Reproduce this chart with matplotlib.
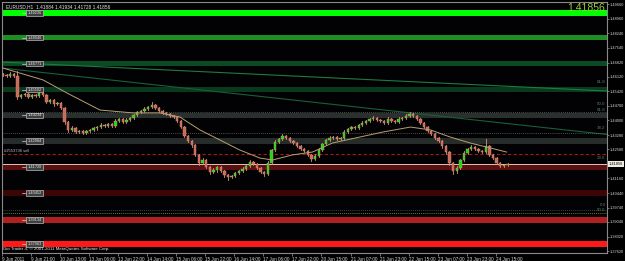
import matplotlib
matplotlib.use('Agg')
import matplotlib.pyplot as plt

plt.rcParams['font.family'] = ['Liberation Sans', 'DejaVu Sans']

# ---------------- data ----------------
first_open = 1.4626
closes = [1.4621, 1.4616, 1.4626, 1.4616, 1.4514, 1.4523, 1.4528, 1.4514, 1.4523, 1.4519,
          1.4533, 1.4523, 1.4489, 1.4499, 1.4479, 1.4484, 1.4460, 1.4392, 1.4353, 1.4362,
          1.4343, 1.4348, 1.4338, 1.4348, 1.4353, 1.4362, 1.4367, 1.4377, 1.4372, 1.4382,
          1.4372, 1.4397, 1.4406, 1.4392, 1.4401, 1.4411, 1.4426, 1.4440, 1.4445, 1.4455,
          1.4465, 1.4475, 1.4460, 1.4445, 1.4436, 1.4431, 1.4421, 1.4416, 1.4397, 1.4367,
          1.4323, 1.4299, 1.4279, 1.4231, 1.4192, 1.4206, 1.4172, 1.4148, 1.4157, 1.4172,
          1.4152, 1.4133, 1.4123, 1.4128, 1.4143, 1.4152, 1.4162, 1.4177, 1.4196, 1.4187,
          1.4167, 1.4148, 1.4138, 1.4192, 1.4255, 1.4294, 1.4309, 1.4323, 1.4314, 1.4299,
          1.4289, 1.4274, 1.4260, 1.4250, 1.4231, 1.4211, 1.4226, 1.4255, 1.4284, 1.4304,
          1.4314, 1.4318, 1.4309, 1.4314, 1.4343, 1.4358, 1.4367, 1.4362, 1.4377, 1.4387,
          1.4397, 1.4406, 1.4411, 1.4401, 1.4397, 1.4387, 1.4406, 1.4397, 1.4392, 1.4406,
          1.4411, 1.4421, 1.4431, 1.4421, 1.4406, 1.4387, 1.4367, 1.4348, 1.4333, 1.4314,
          1.4299, 1.4274, 1.4245, 1.4192, 1.4152, 1.4167, 1.4206, 1.4240, 1.4260, 1.4270,
          1.4260, 1.4250, 1.4245, 1.4274, 1.4231, 1.4216, 1.4192, 1.4177, 1.4182, 1.4186]
hi_wick = [6, 5, 8, 4, 25, 6, 7, 5, 6, 4,
           8, 5, 4, 6, 5, 7, 4, 3, 5, 8,
           4, 6, 5, 7, 4, 6, 5, 8, 4, 6,
           5, 7, 4, 6, 8, 5, 6, 7, 5, 8,
           6, 12, 5, 4, 6, 5, 4, 6, 5, 4,
           3, 5, 6, 4, 5, 8, 4, 6, 9, 7,
           5, 4, 6, 7, 5, 6, 8, 5, 9, 6,
           4, 5, 6, 8, 7, 9, 6, 8, 5, 4,
           6, 5, 4, 6, 5, 4, 9, 8, 7, 6,
           8, 7, 5, 6, 8, 6, 7, 5, 6, 8,
           6, 7, 8, 5, 6, 4, 9, 6, 5, 8,
           7, 10, 9, 6, 5, 4, 6, 5, 4, 6,
           5, 4, 3, 5, 4, 8, 7, 9, 6, 8,
           6, 5, 4, 35, 6, 5, 4, 6, 5, 4]
lo_wick = [5, 6, 4, 7, 8, 6, 5, 7, 5, 6,
           4, 6, 5, 5, 7, 4, 6, 12, 8, 6,
           7, 5, 6, 4, 6, 5, 7, 4, 6, 5,
           6, 4, 7, 5, 4, 6, 5, 4, 6, 5,
           5, 4, 6, 5, 4, 6, 5, 7, 6, 5,
           6, 5, 7, 6, 8, 5, 6, 9, 6, 7,
           6, 8, 14, 6, 5, 7, 6, 5, 6, 7,
           6, 7, 12, 5, 6, 4, 5, 6, 7, 5,
           6, 5, 7, 6, 5, 8, 6, 5, 6, 5,
           4, 6, 5, 7, 4, 6, 5, 4, 6, 5,
           5, 4, 6, 5, 4, 7, 5, 6, 4, 5,
           4, 6, 5, 4, 6, 5, 7, 6, 5, 7,
           6, 7, 8, 9, 14, 7, 6, 5, 6, 5,
           6, 5, 7, 5, 6, 7, 5, 6, 5, 4]

ma_bars = [0.5, 22.6, 35.8, 54, 72.2, 87, 98, 109, 120, 131, 142, 149, 160, 171,
           182, 197, 210, 225, 236, 247, 258, 269, 278]
ma_vals = [1.4655, 1.4597, 1.4533, 1.4450, 1.4436, 1.4436, 1.4416, 1.4353, 1.4304,
           1.4255, 1.4216, 1.4206, 1.4231, 1.4245, 1.4289, 1.4318, 1.4343, 1.4367,
           1.4353, 1.4318, 1.4289, 1.4265, 1.4245]

band_prices = [1.49236, 1.48040, 1.46771, 1.45502, 1.44234, 1.42984,
               1.41720, 1.40452, 1.39134, 1.37963]
band_colors = ['#00ff00', '#208c24', '#0c4a26', '#0a3a1e', '#2a302d', '#262c29',
               '#5a1010', '#3c0606', '#b02020', '#ff1818']

trend1_bars = [0, 333]
trend1_vals = [1.4684, 1.4543]
trend2_bars = [0, 333]
trend2_vals = [1.4655, 1.4331]

dotted_levels = [1.4440, 1.4338]
order_level = 1.4235
bid = 1.41856
fib_teal = 1.3962
fib_yellow = 1.3948
fib_labels = ['61.8', '50.0', '61.8', '38.2', '23.6', '0.0', '50.0']
fib_label_prices = [1.4577, 1.4470, 1.4440, 1.4353, 1.4206, 1.3977, 1.3952]

ytick_vals = [1.49660, 1.48960, 1.48240, 1.47540, 1.46820, 1.46120, 1.45420,
              1.44700, 1.44000, 1.43280, 1.42580, 1.41160, 1.40440, 1.39740,
              1.39040, 1.38320, 1.37620]
xtick_labels = ['9 Jun 2011', '9 Jun 21:00', '10 Jun 13:00', '13 Jun 06:00',
                '13 Jun 22:00', '14 Jun 14:00', '15 Jun 06:00', '15 Jun 22:00',
                '16 Jun 14:00', '17 Jun 06:00', '17 Jun 22:00', '20 Jun 15:00',
                '21 Jun 07:00', '21 Jun 23:00', '22 Jun 15:00', '23 Jun 07:00',
                '23 Jun 23:00', '24 Jun 15:00']
title_txt = 'EURUSD,H1  1.41884 1.41934 1.41728 1.41856'
copyright_txt = 'Gio Trader 4, \u00a9 2001-2011 MetaQuotes Software Corp.'
order_txt = '#2553736 sell'

# ---------------- figure ----------------
W, H = 625, 261
fig = plt.figure(figsize=(W / 100, H / 100), dpi=100, facecolor='black')
x0, x1, ytop, ybot = 2, 607, 1.5, 252.5
ax = fig.add_axes([x0 / W, 1 - ybot / H, (x1 - x0) / W, (ybot - ytop) / H])
ax.set_facecolor('#020204')
ax.set_xlim(0, 333.3)
ax.set_ylim(1.37548, 1.49797)

# bands
for p, c in zip(band_prices, band_colors):
    ax.axhspan(p - 0.00135, p + 0.00135, color=c, lw=0, zorder=1)
    ax.plot([11.0, 13.5], [p, p], color='#d0d0d0', lw=0.5, zorder=5)
    ax.text(14.0, p, '%.5f' % p, fontsize=2.8, color='#e8e8e8', va='center', ha='left',
            zorder=6, bbox=dict(boxstyle='square,pad=0.25', fc='#404040', ec='#b8b8b8', lw=0.5))

# trend lines
ax.plot(trend1_bars, trend1_vals, color='#1f7a40', lw=0.8, zorder=2)
ax.plot(trend2_bars, trend2_vals, color='#176038', lw=0.8, zorder=2)

# level lines
for lv in dotted_levels:
    ax.axhline(lv, color='#6a6a6a', lw=0.6, ls=(0, (1, 1.5)), zorder=2)
ax.axhline(order_level, color='#a01818', lw=0.8, ls=(0, (3, 2)), zorder=2)
ax.axhline(fib_teal, color='#2e6a6a', lw=0.6, ls=(0, (1, 1.5)), zorder=2)
ax.axhline(fib_yellow, color='#a09a40', lw=0.6, ls=(0, (1, 1.5)), zorder=2)
ax.axhline(bid, color='#e0c4b0', lw=0.7, zorder=2)
for t, p in zip(fib_labels, fib_label_prices):
    ax.text(332.5, p, t, fontsize=3.2, color='#5e7e60', ha='right', va='bottom', zorder=3)

# candles
opens = [first_open] + closes[:-1]
for k, (o, c, hw, lw_) in enumerate(zip(opens, closes, hi_wick, lo_wick)):
    xb = 2 * k + 0.5
    hi = max(o, c) + hw * 0.0001
    lo = min(o, c) - lw_ * 0.0001
    ax.plot([xb, xb], [lo, hi], color='#e0907a', lw=0.6, zorder=4)
    bull = c >= o
    body_c = '#10e010' if bull else '#c86a58'
    h = max(abs(c - o), 0.00012)
    ax.bar(xb, h, bottom=min(o, c), width=1.3, color=body_c, edgecolor='#e0907a',
           linewidth=0.3, zorder=4)

# moving average
ax.plot(ma_bars, ma_vals, color='#b8a070', lw=0.7, zorder=4)

# texts
ax.text(0.006, 0.988, title_txt, transform=ax.transAxes, fontsize=3.4, color='#e8e8e8',
        va='top', ha='left', zorder=7)
ax.text(0.996, 0.995, '1.41856', transform=ax.transAxes, fontsize=7.5, color='#9acd32',
        va='top', ha='right', zorder=7)
ax.text(0.002, 0.006, copyright_txt, transform=ax.transAxes, fontsize=3.2, color='#e8e8e8',
        va='bottom', ha='left', zorder=7)
ax.text(1.0, order_level + 0.0005, order_txt, fontsize=3.0, color='#c0c0c0',
        va='bottom', ha='left', zorder=7)

# axes styling
for s in ax.spines.values():
    s.set_color('#8a8a8a')
    s.set_linewidth(0.8)
ax.yaxis.tick_right()
ax.set_yticks(ytick_vals)
ax.set_yticklabels(['%.5f' % v for v in ytick_vals])
ax.set_xticks([16 * j for j in range(len(xtick_labels))])
ax.set_xticklabels(xtick_labels)
ax.tick_params(axis='x', colors='#9a9a9a', labelcolor='#d8d8d8', labelsize=3.3,
               length=2, width=0.5, pad=1)
ax.tick_params(axis='y', colors='#9a9a9a', labelcolor='#d8d8d8', labelsize=2.8,
               length=1.5, width=0.5, pad=0.6)
for lab in ax.get_xticklabels():
    lab.set_ha('left')
ax.text(1.0025, bid, '%.5f' % bid, transform=ax.get_yaxis_transform(), fontsize=2.8,
        color='black', va='center', ha='left', zorder=8, clip_on=False,
        bbox=dict(boxstyle='square,pad=0.2', fc='#f0ece0', ec='#f0ece0', lw=0))

fig.savefig('out.png', dpi=100, facecolor='black')
